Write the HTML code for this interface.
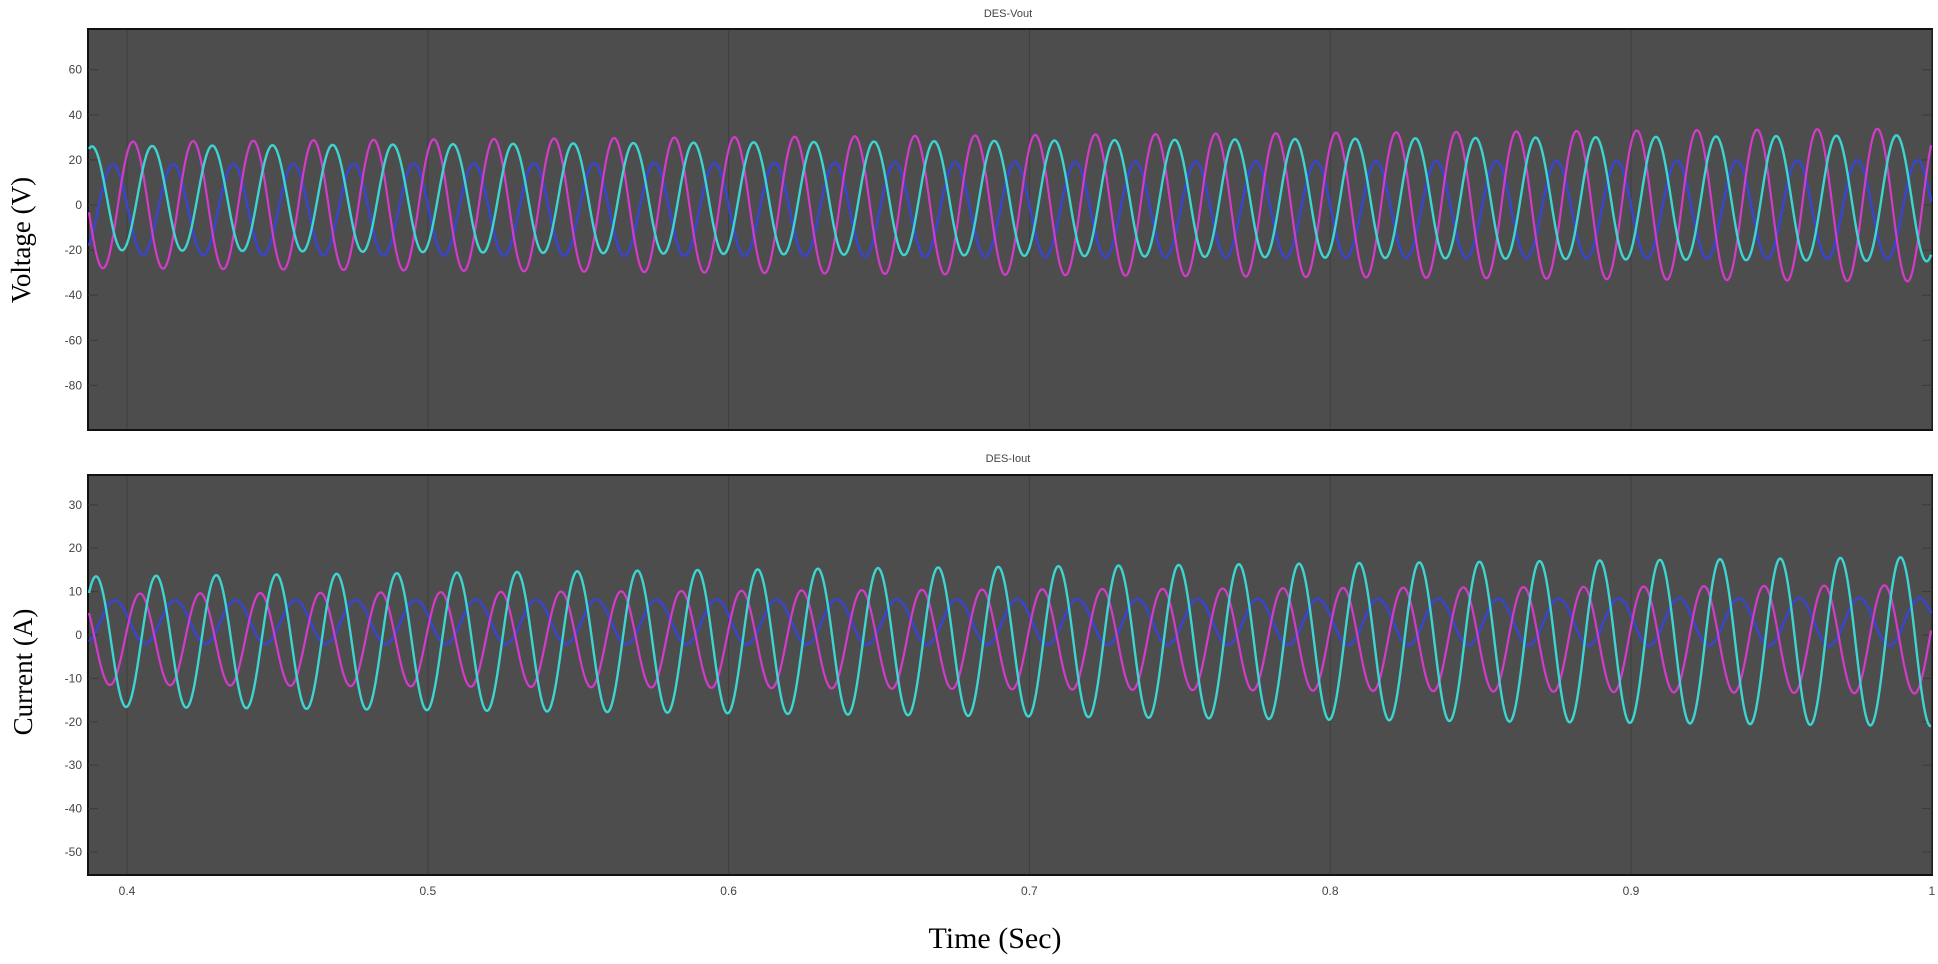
<!DOCTYPE html>
<html><head><meta charset="utf-8"><style>
html,body{margin:0;padding:0;background:#fff;}
body{width:1938px;height:964px;overflow:hidden;position:relative;}
svg{position:absolute;left:0;top:0;}
</style></head><body>
<svg id="s" width="1938" height="964" xmlns="http://www.w3.org/2000/svg">
<rect x="88" y="29" width="1844" height="401" fill="#4d4d4d" stroke="#111" stroke-width="2"/>
<rect x="88" y="475" width="1844" height="400" fill="#4d4d4d" stroke="#111" stroke-width="2"/>
<g id="grid"></g>
<g id="lines" fill="none" stroke-width="2.2" stroke-linejoin="round"></g>
<text x="1008" y="17" font-family="Liberation Sans, sans-serif" font-size="11" fill="#444" text-anchor="middle">DES-Vout</text>
<text x="1008" y="462" font-family="Liberation Sans, sans-serif" font-size="11" fill="#444" text-anchor="middle">DES-Iout</text>
<text transform="translate(30,240) rotate(-90)" font-family="Liberation Serif, serif" font-size="27" fill="#000" text-anchor="middle">Voltage (V)</text>
<text transform="translate(32,672) rotate(-90)" font-family="Liberation Serif, serif" font-size="27" fill="#000" text-anchor="middle">Current (A)</text>
<text x="995" y="948" font-family="Liberation Serif, serif" font-size="30" fill="#000" text-anchor="middle">Time (Sec)</text>
<g id="labels" font-family="Liberation Sans, sans-serif" font-size="12" fill="#444"></g>
</svg>
<script>
var NS="http://www.w3.org/2000/svg";
function el(p,t,a,txt){var e=document.createElementNS(NS,t);for(var k in a)e.setAttribute(k,a[k]);if(txt!==undefined)e.textContent=txt;document.getElementById(p).appendChild(e);}
var L=88,R=1932;
function tx(t){return 127+(t-0.4)*3008;}
// x ticks
for(var i=0;i<=6;i++){var t=0.4+i*0.1,x=tx(t);
 el('grid','line',{x1:x,y1:30,x2:x,y2:429,stroke:'#3f3f3f','stroke-width':1});
 el('grid','line',{x1:x,y1:476,x2:x,y2:874,stroke:'#3f3f3f','stroke-width':1});
 el('labels','text',{x:x,y:895,'text-anchor':'middle'},i==6?'1':t.toFixed(1));}
// y ticks top
for(var v=60;v>=-80;v-=20){var y=205-v*45.1/20;
 el('grid','line',{x1:L,y1:y,x2:L+10,y2:y,stroke:'#3a3a3a'});
 el('grid','line',{x1:R-10,y1:y,x2:R,y2:y,stroke:'#3a3a3a'});
 el('labels','text',{x:82,y:y+4,'text-anchor':'end'},String(v));}
for(var v=30;v>=-50;v-=10){var y=635-v*4.34;
 el('grid','line',{x1:L,y1:y,x2:L+10,y2:y,stroke:'#3a3a3a'});
 el('grid','line',{x1:R-10,y1:y,x2:R,y2:y,stroke:'#3a3a3a'});
 el('labels','text',{x:82,y:y+4,'text-anchor':'end'},String(v));}
function wave(y0,sc,peakX,a0,a1,off,col,w){
 var pts=[];for(var x=L+1;x<=R-1;x+=1){var f=(x-L)/(R-L);var a=a0+(a1-a0)*f;
  var v=off+a*Math.cos(2*Math.PI*(x-peakX)/60.15);pts.push(x+','+(y0-v*sc).toFixed(1));}
 el('lines','polyline',{points:pts.join(' '),stroke:col,'stroke-width':w});}
// top voltage
var st=45.1/20;
wave(205,st,113,20,22,-2,'#3a45c8',2.6);
wave(205,st,133,28,34,0,'#d23cc8',2.2);
wave(205,st,92,23,28,3,'#3ed4d0',2.4);
// bottom current
var sb=4.34;
wave(635,sb,115,5,5.5,3,'#3a45c8',2.6);
wave(635,sb,140,10.5,12.5,-1,'#d23cc8',2.2);
wave(635,sb,96,15,19.5,-1.5,'#3ed4d0',2.4);
</script>
</body></html>
